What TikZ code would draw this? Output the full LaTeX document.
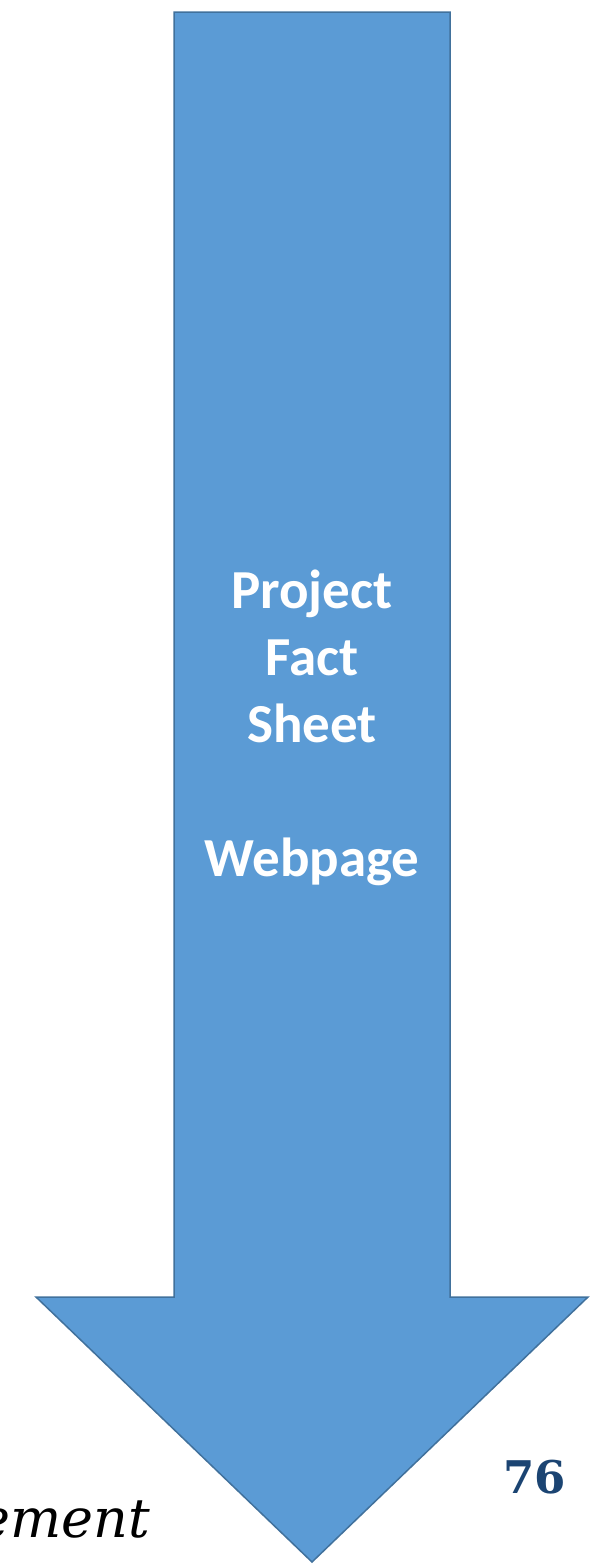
\documentclass[tikz,border=0pt]{standalone}
\usepackage{fontspec}
\setmainfont{Carlito}
\newfontfamily\slabfont{DejaVu Serif}
\definecolor{arrowfill}{HTML}{5B9BD5}
\definecolor{arrowline}{HTML}{41719C}
\definecolor{pagenum}{HTML}{1B4472}
\tikzset{
  bigarrow/.style={fill=arrowfill, draw=arrowline, line width=1.5pt, line join=miter},
  arrowtext/.style={text=white, font=\fontsize{55}{67}\selectfont\bfseries, align=center},
}
\begin{document}
\begin{tikzpicture}[x=1pt,y=-1pt]
\useasboundingbox (0,0) rectangle (605,1564);
\coordinate (s1) at (174,12);
\coordinate (s2) at (450,12);
\coordinate (s3) at (450,1297);
\coordinate (h1) at (588,1297);
\coordinate (tip) at (312,1562);
\coordinate (h2) at (36,1297);
\coordinate (s4) at (174,1297);
\draw[bigarrow] (s1) -- (s2) -- (s3) -- (h1) -- (tip) -- (h2) -- (s4) -- cycle;
\node[arrowtext, anchor=base] (lbl) at (312,876) {Project\\Fact\\Sheet\\[67pt]Webpage};
\node[anchor=base east, inner sep=0pt, text=pagenum, font=\slabfont\bfseries\fontsize{45}{50}\selectfont] (num) at (566,1493) {76};
\node[anchor=base east, inner sep=0pt, font=\slabfont\itshape\fontsize{54}{60}\selectfont] (frag) at (150,1537) {ement};
\end{tikzpicture}
\end{document}
